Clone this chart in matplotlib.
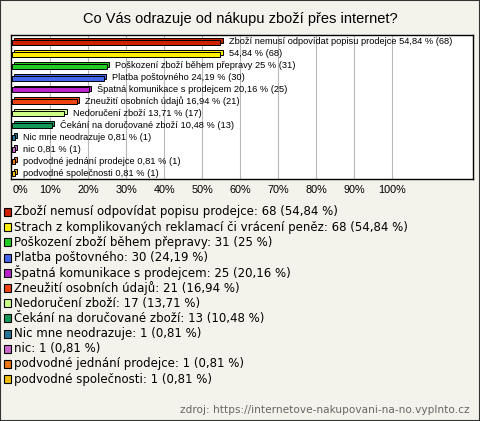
import numpy as np
import matplotlib.pyplot as plt
from matplotlib.patches import Rectangle

plt.rcParams['font.family'] = ['Liberation Sans', 'DejaVu Sans']

title = 'Co Vás odrazuje od nákupu zboží přes internet?'
categories = [
    'Zboží nemusí odpovídat popisu prodejce',
    'Strach z komplikovaných reklamací či vrácení peněz',
    'Poškození zboží během přepravy',
    'Platba poštovného',
    'Špatná komunikace s prodejcem',
    'Zneužití osobních údajů',
    'Nedoručení zboží',
    'Čekání na doručované zboží',
    'Nic mne neodrazuje',
    'nic',
    'podvodné jednání prodejce',
    'podvodné společnosti',
]
counts = [68, 68, 31, 30, 25, 21, 17, 13, 1, 1, 1, 1]
pcts = [54.84, 54.84, 25, 24.19, 20.16, 16.94, 13.71, 10.48, 0.81, 0.81, 0.81, 0.81]
pct_txt = ['54,84', '54,84', '25', '24,19', '20,16', '16,94', '13,71', '10,48',
           '0,81', '0,81', '0,81', '0,81']
# the second bar label was cut to the value only
bar_names = [categories[0], '', categories[2], categories[3], categories[4],
             categories[5], categories[6], categories[7], categories[8],
             categories[9], categories[10], categories[11]]
colors = ['#cc2200', '#ffee00', '#22cc22', '#4466ee', '#bb22cc', '#ee4411',
          '#ccff88', '#119955', '#227799', '#cc66cc', '#ee7711', '#eebb11']
xticks = [0, 10, 20, 30, 40, 50, 60, 70, 80, 90, 100]
source = 'zdroj: https://internetove-nakupovani-na-no.vyplnto.cz'

bg = '#f3f2eb'
W, H = 480, 421
fig = plt.figure(figsize=(W / 100, H / 100), dpi=100, facecolor=bg)

# outer border
fig.patches.append(Rectangle((0.001, 0.001), 0.998, 0.998, transform=fig.transFigure,
                             fill=False, edgecolor='#333333', lw=1.5))

fig.text(0.5, 1 - 19 / H, title, ha='center', va='center', fontsize=10.5)

ax = fig.add_axes([11 / W, 1 - 179 / H, (473 - 11) / W, (179 - 35) / H])
ax.set_facecolor('white')
ax.set_xlim(-0.3, 121.3)
ax.set_ylim(11.45, -0.6)
for sp in ax.spines.values():
    sp.set_color('black')
    sp.set_linewidth(1)
for t in xticks[1:]:
    ax.axvline(t, color='#b8b8b8', lw=0.8, zorder=0)
ax.set_yticks([])
ax.set_xticks(xticks)
ax.set_xticklabels([f'{t}%' for t in xticks], fontsize=7.8)
ax.tick_params(axis='x', length=0, pad=4)
ax.get_xticklabels()[0].set_horizontalalignment('left')

y = np.arange(len(categories))
h = 0.42
dx, dy = 0.6, -0.16
ax.barh(y + dy, pcts, left=dx, height=h, color=colors, edgecolor='black', lw=0.7, zorder=2)
ax.barh(y, pcts, height=h, color=colors, edgecolor='black', lw=0.7, zorder=3)

for i in range(len(categories)):
    txt = f'{pct_txt[i]} % ({counts[i]})'
    if bar_names[i]:
        txt = bar_names[i] + ' ' + txt
    ax.annotate(txt, (pcts[i] + dx, y[i] - 0.05), xytext=(6, 0), textcoords='offset pixels',
                ha='left', va='center', fontsize=6.7, zorder=4)

# legend
top, step = 212, 15.2
for i, cat in enumerate(categories):
    yc = 1 - (top + i * step) / H
    fig.patches.append(Rectangle((3.5 / W, yc - 4 / H), 8 / W, 8 / H, transform=fig.transFigure,
                                 facecolor=colors[i], edgecolor='black', lw=0.8))
    fig.text(14 / W, yc, f'{cat}: {counts[i]} ({pct_txt[i]} %)', ha='left', va='center',
             fontsize=8.5, family='DejaVu Sans')

fig.text(470 / W, 1 - 410 / H, source, ha='right', va='center', fontsize=7.6,
         color='#666666', family='DejaVu Sans')

fig.savefig('out.png', dpi=100, facecolor=bg)
